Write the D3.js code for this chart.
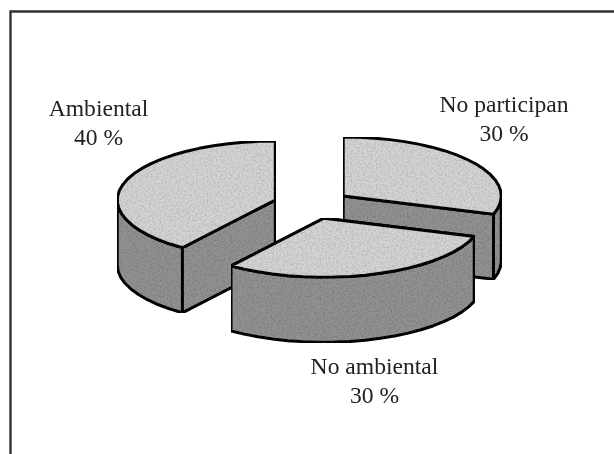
<!DOCTYPE html>
<html>
<head>
<meta charset="utf-8">
<script src="https://cdn.jsdelivr.net/npm/d3@7"></script>
<style>
  html, body { margin: 0; padding: 0; background: #fff; }
  svg { display: block; }
  text { font-family: "Liberation Serif", serif; font-size: 23.6px; fill: #222; text-anchor: middle; }
</style>
</head>
<body>
<div id="chart"></div>
<script>
const categories = ["No participan", "No ambiental", "Ambiental"];
const values = [30, 30, 40];

const width = 614, height = 454;
const cx = 312, cy = 204.5, rx = 158, ry = 59, depth = 65, explode = 38.6;
const labelPos = [[504, 112], [374.5, 374], [98.5, 116]];
const lineGap = 29;

const svg = d3.select("#chart").append("svg")
    .attr("width", width)
    .attr("height", height);

// speckle so the fills look like the scanned print
const defs = svg.append("defs");
const grain = defs.append("filter").attr("id", "grain")
    .attr("x", 0).attr("y", 0).attr("width", 1).attr("height", 1);
grain.append("feTurbulence")
    .attr("type", "fractalNoise")
    .attr("baseFrequency", 0.55)
    .attr("numOctaves", 2)
    .attr("seed", 4)
    .attr("result", "noise");
grain.append("feColorMatrix")
    .attr("in", "noise")
    .attr("type", "matrix")
    .attr("values", "0 0 0 0 0  0 0 0 0 0  0 0 0 0 0  0.7 0 0 0 -0.28")
    .attr("result", "speck");
grain.append("feComposite")
    .attr("in", "speck").attr("in2", "SourceAlpha").attr("operator", "in").attr("result", "clipped");
grain.append("feMerge").selectAll("feMergeNode")
    .data(["SourceGraphic", "clipped"])
    .enter().append("feMergeNode").attr("in", d => d);

// everything in the reference is a little soft
defs.append("filter").attr("id", "soft")
    .attr("filterUnits", "userSpaceOnUse")
    .attr("x", 0).attr("y", 0).attr("width", width).attr("height", height)
    .append("feGaussianBlur").attr("stdDeviation", 0.45);

const root = svg.append("g").attr("filter", "url(#soft)");

// the frame only runs along the top and the left
root.append("path")
    .attr("d", d3.line()([[10.5, height], [10.5, 11.5], [width, 11.5]]))
    .attr("fill", "none")
    .attr("stroke", "#333")
    .attr("stroke-width", 2.4);

const pie = d3.pie().sort(null)(values);
const line = d3.line();

const pt = (a, r, ox, oy) => [ox + Math.sin(a) * r * rx, oy - Math.cos(a) * r * ry];

// coarse steps leave the rim slightly faceted, like the original
const rimAngles = (a0, a1) => {
    const n = Math.max(2, Math.round((a1 - a0) / 0.1));
    return d3.range(n + 1).map(i => a0 + (a1 - a0) * i / n);
};

const slices = pie.map((d, i) => {
    const mid = (d.startAngle + d.endAngle) / 2;
    return {
        name: categories[i],
        value: d.value,
        start: d.startAngle,
        end: d.endAngle,
        ox: cx + Math.sin(mid) * explode,
        oy: cy - Math.cos(mid) * explode * ry / rx,
        label: labelPos[i]
    };
});

// painter's order: back slices first, the front one on top
const order = [2, 0, 1];
const pieG = root.append("g")
    .attr("stroke", "#0c0c0c")
    .attr("stroke-width", 3)
    .attr("stroke-linejoin", "round");

order.map(i => slices[i]).forEach(s => {
    const g = pieG.append("g");
    const c = [s.ox, s.oy];
    const cb = [s.ox, s.oy + depth];

    // radial walls
    [s.start, s.end].forEach(a => {
        const p = pt(a, 1, s.ox, s.oy);
        g.append("path")
            .attr("d", line([c, p, [p[0], p[1] + depth], cb]) + "Z")
            .attr("fill", "#929292")
            .attr("filter", "url(#grain)");
    });

    // outer wall, only where the rim faces the viewer
    const a0 = Math.max(s.start, Math.PI / 2), a1 = Math.min(s.end, Math.PI * 1.5);
    if (a1 > a0) {
        const upper = rimAngles(a0, a1).map(a => pt(a, 1, s.ox, s.oy));
        const lower = upper.map(p => [p[0], p[1] + depth]).reverse();
        g.append("path")
            .attr("d", line(upper.concat(lower)) + "Z")
            .attr("fill", "#929292")
            .attr("filter", "url(#grain)");
    }

    // top face
    const rim = rimAngles(s.start, s.end).map(a => pt(a, 1, s.ox, s.oy));
    g.append("path")
        .attr("d", line([c].concat(rim)) + "Z")
        .attr("fill", "#d4d4d4")
        .attr("filter", "url(#grain)");
});

const labels = root.append("g").selectAll("g")
    .data(slices)
    .enter().append("g");
labels.append("text")
    .attr("x", d => d.label[0])
    .attr("y", d => d.label[1])
    .text(d => d.name);
labels.append("text")
    .attr("x", d => d.label[0])
    .attr("y", d => d.label[1] + lineGap)
    .text(d => `${d.value} %`);
</script>
</body>
</html>
